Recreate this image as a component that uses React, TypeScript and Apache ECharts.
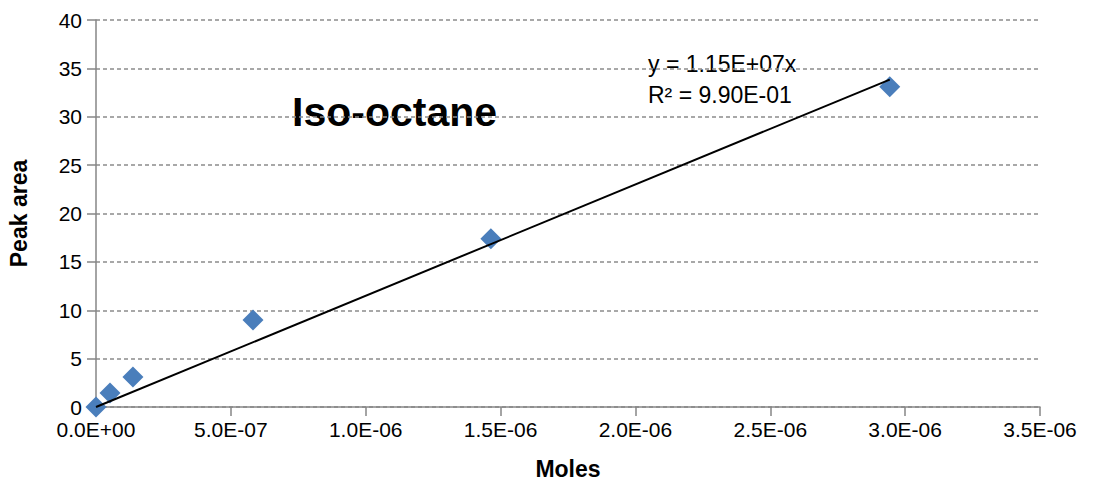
import React, { useEffect, useRef } from "react";
import * as echarts from "echarts";

const moles = [0, 5.2e-8, 1.37e-7, 5.82e-7, 1.464e-6, 2.943e-6];
const peakArea = [0, 1.45, 3.1, 9.0, 17.4, 33.1];
const slope = 1.15e7;
const trendX = [0, 2.943e-6];
const equationLines = ["y = 1.15E+07x", "R² = 9.90E-01"];
const title = "Iso-octane";

const fmt = (v: number) => {
  if (v === 0) return "0.0E+00";
  const e = Math.floor(Math.log10(Math.abs(v)) + 1e-9);
  const m = v / Math.pow(10, e);
  const es = (e < 0 ? "-" : "+") + String(Math.abs(e)).padStart(2, "0");
  return m.toFixed(1) + "E" + es;
};

const FF = "Liberation Sans";

export default function App() {
  const ref = useRef<HTMLDivElement>(null);
  useEffect(() => {
    const chart = echarts.init(ref.current!, null, { renderer: "svg" });
    chart.setOption({
      animation: false,
      grid: { left: 96, right: 55, top: 20, bottom: 77, outerBoundsMode: "none", containLabel: false },
      xAxis: {
        type: "value",
        min: 0,
        max: 3.5e-6,
        interval: 5e-7,
        name: "Moles",
        nameLocation: "middle",
        nameGap: 50,
        nameTextStyle: { fontSize: 23, fontWeight: "bold", color: "#000", fontFamily: FF },
        axisLine: { lineStyle: { color: "#868686", width: 1.5 } },
        axisTick: { show: true, length: 9, lineStyle: { color: "#868686", width: 1.5 } },
        axisLabel: { formatter: fmt, fontSize: 21, color: "#000", margin: 12, fontFamily: FF },
        splitLine: { show: false },
      },
      yAxis: {
        type: "value",
        min: 0,
        max: 40,
        interval: 5,
        name: "Peak area",
        nameLocation: "middle",
        nameGap: 66,
        nameTextStyle: { fontSize: 23, fontWeight: "bold", color: "#000", fontFamily: FF },
        axisLine: { show: true, lineStyle: { color: "#868686", width: 1.5 } },
        axisTick: { show: true, length: 9, lineStyle: { color: "#868686", width: 1.5 } },
        axisLabel: { fontSize: 21, color: "#000", margin: 14, fontFamily: FF },
        splitLine: { show: true, lineStyle: { color: "#8c8c8c", type: [4, 3], width: 1.5 } },
      },
      graphic: [
        {
          type: "text",
          left: 292,
          top: 91,
          style: { text: title, fontSize: 41, fontWeight: "bold", fill: "#000", fontFamily: FF },
        },
        {
          type: "text",
          left: 648,
          top: 48,
          style: { text: equationLines.join("\n"), fontSize: 23, lineHeight: 31, fill: "#000", fontFamily: FF },
        },
      ],
      series: [
        {
          type: "line",
          data: trendX.map((x) => [x, slope * x]),
          showSymbol: false,
          symbol: "none",
          lineStyle: { color: "#000", width: 2 },
          silent: true,
          z: 3,
        },
        {
          type: "scatter",
          data: moles.map((x, i) => [x, peakArea[i]]),
          symbol: "diamond",
          symbolSize: [21, 21],
          itemStyle: { color: "#4A7EBB", opacity: 1 },
          z: 2,
        },
      ],
    });
    return () => chart.dispose();
  }, []);
  return <div ref={ref} style={{ width: 1095, height: 484, position: "absolute", left: 0, top: 0 }} />;
}
